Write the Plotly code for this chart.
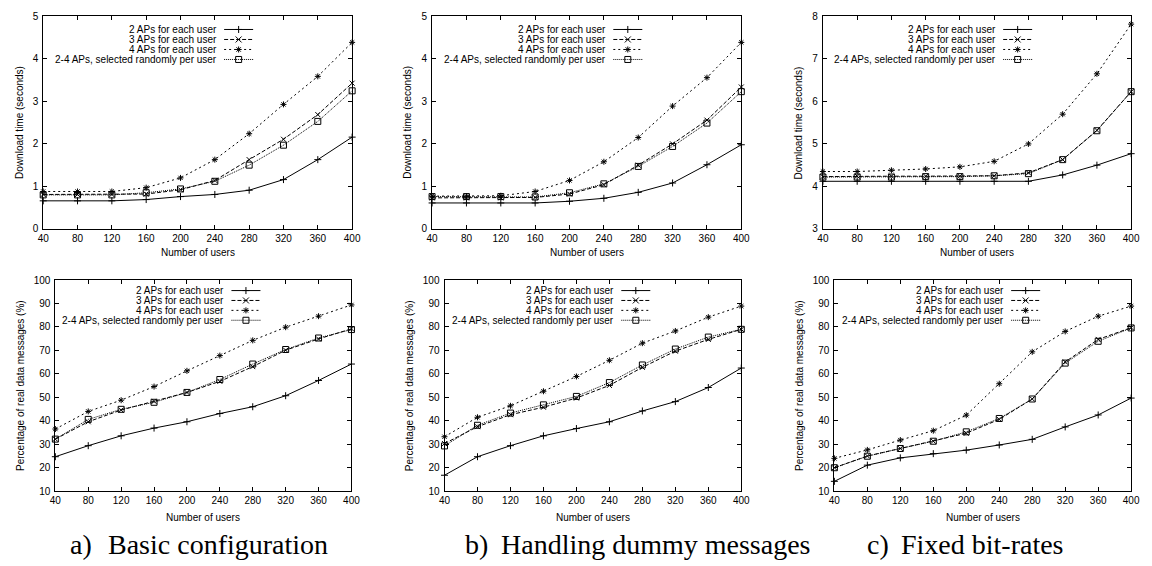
import re
import plotly.graph_objects as go

# ---------------- data ----------------
users = [40, 80, 120, 160, 200, 240, 280, 320, 360, 400]
series_names = ["2 APs for each user", "3 APs for each user",
                "4 APs for each user", "2-4 APs, selected randomly per user"]

a_dl_2 = [0.66, 0.66, 0.66, 0.69, 0.76, 0.81, 0.91, 1.16, 1.63, 2.16]
a_dl_3 = [0.81, 0.81, 0.81, 0.82, 0.92, 1.14, 1.63, 2.11, 2.69, 3.43]
a_dl_4 = [0.88, 0.88, 0.88, 0.97, 1.20, 1.63, 2.24, 2.93, 3.59, 4.39]
a_dl_r = [0.80, 0.80, 0.80, 0.85, 0.94, 1.12, 1.50, 1.97, 2.53, 3.25]

b_dl_2 = [0.61, 0.61, 0.61, 0.61, 0.65, 0.72, 0.86, 1.08, 1.51, 1.98]
b_dl_3 = [0.73, 0.73, 0.73, 0.74, 0.82, 1.04, 1.50, 2.00, 2.56, 3.34]
b_dl_4 = [0.77, 0.77, 0.78, 0.88, 1.14, 1.58, 2.15, 2.89, 3.56, 4.39]
b_dl_r = [0.76, 0.76, 0.76, 0.75, 0.85, 1.06, 1.47, 1.94, 2.49, 3.23]

c_dl_2 = [4.12, 4.12, 4.12, 4.12, 4.12, 4.12, 4.12, 4.27, 4.50, 4.77]
c_dl_3 = [4.23, 4.24, 4.24, 4.24, 4.24, 4.25, 4.32, 4.63, 5.32, 6.23]
c_dl_4 = [4.35, 4.35, 4.38, 4.41, 4.46, 4.59, 5.00, 5.70, 6.65, 7.82]
c_dl_r = [4.22, 4.22, 4.22, 4.23, 4.23, 4.25, 4.30, 4.63, 5.31, 6.23]

a_pct_2 = [24.7, 29.4, 33.6, 36.9, 39.6, 43.1, 46.0, 50.7, 57.2, 64.2]
a_pct_3 = [32.2, 39.6, 44.6, 48.3, 52.1, 56.8, 63.1, 70.1, 74.9, 79.2]
a_pct_4 = [36.5, 44.0, 48.8, 54.6, 61.3, 67.8, 74.3, 79.9, 84.6, 89.4]
a_pct_r = [32.2, 40.6, 44.9, 47.9, 52.1, 57.6, 64.2, 70.4, 75.3, 78.9]

b_pct_2 = [16.8, 24.7, 29.4, 33.6, 36.7, 39.6, 44.2, 48.2, 54.2, 62.5]
b_pct_3 = [30.3, 37.5, 42.6, 45.8, 49.7, 55.1, 62.8, 69.7, 74.7, 79.0]
b_pct_4 = [33.2, 41.5, 46.4, 52.6, 58.9, 65.8, 73.1, 78.3, 84.2, 88.9]
b_pct_r = [29.3, 38.1, 43.3, 46.8, 50.4, 56.3, 63.8, 70.6, 75.7, 79.0]

c_pct_2 = [14.2, 21.1, 24.2, 26.0, 27.5, 29.7, 32.1, 37.4, 42.5, 49.7]
c_pct_3 = [20.0, 25.0, 28.2, 31.3, 34.7, 40.6, 49.3, 65.1, 74.7, 79.7]
c_pct_4 = [24.0, 27.6, 31.8, 35.8, 42.4, 55.8, 69.4, 78.1, 84.6, 88.9]
c_pct_r = [20.0, 24.9, 28.2, 31.3, 35.3, 41.0, 49.3, 64.6, 73.9, 79.6]

dl_ticks_ab = [0, 1, 2, 3, 4, 5]
dl_ticks_c = [3, 4, 5, 6, 7, 8]
pct_ticks = [10, 20, 30, 40, 50, 60, 70, 80, 90, 100]

captions = [("a)", "Basic configuration"),
            ("b)", "Handling dummy messages"),
            ("c)", "Fixed bit-rates")]

y_title_dl = "Download time (seconds)"
y_title_pct = "Percentage of real data messages (%)"
x_title = "Number of users"

panels = [
    ([a_dl_2, a_dl_3, a_dl_4, a_dl_r], dl_ticks_ab, y_title_dl),
    ([b_dl_2, b_dl_3, b_dl_4, b_dl_r], dl_ticks_ab, y_title_dl),
    ([c_dl_2, c_dl_3, c_dl_4, c_dl_r], dl_ticks_c, y_title_dl),
    ([a_pct_2, a_pct_3, a_pct_4, a_pct_r], pct_ticks, y_title_pct),
    ([b_pct_2, b_pct_3, b_pct_4, b_pct_r], pct_ticks, y_title_pct),
    ([c_pct_2, c_pct_3, c_pct_4, c_pct_r], pct_ticks, y_title_pct),
]

# ---------------- layout / style ----------------
W, H = 1152, 566
FONT = "Liberation Sans, Arial, Helvetica, sans-serif"
# plot boxes in pixel coordinates (left, right, top, bottom)
boxes = [(37.7, 350.7, 10.7, 227.7), (431.7, 745.0, 10.7, 227.7),
         (827.7, 1140.0, 10.7, 227.7), (50.0, 350.0, 280.0, 495.7),
         (444.3, 745.0, 280.0, 495.7), (839.3, 1140.0, 280.0, 495.7)]

styles = [
    dict(dash="solid", symbol="cross-thin-open", size=5),
    dict(dash="4px,2px", symbol="x-thin-open", size=5),
    dict(dash="2px,3px", symbol="asterisk-open", size=5),
    dict(dash="1px,1px", symbol="square-open", size=6),
]
glyph_paths = [
    "M-3.5,0H3.5M0,-3.5V3.5",
    "M-3,-3L3,3M-3,3L3,-3",
    "M-3,0H3M0,-3V3M-2.2,-2.2L2.2,2.2M-2.2,2.2L2.2,-2.2",
    "M-3,-3H3V3H-3Z",
]


def shift_path(p, dx, dy):
    tokens = re.findall(r"[MLHVZ]|-?\d+\.?\d*", p)
    out, cmd, j = [], None, 0
    while j < len(tokens):
        t = tokens[j]
        if t in "MLHVZ":
            cmd = t
            out.append(t)
            j += 1
            continue
        if cmd in ("M", "L"):
            out.append(f"{float(tokens[j]) + dx},{float(tokens[j + 1]) + dy}")
            j += 2
        elif cmd == "H":
            out.append(f"{float(t) + dx}")
            j += 1
        elif cmd == "V":
            out.append(f"{float(t) + dy}")
            j += 1
        else:
            j += 1
    return "".join(out)


fig = go.Figure()
layout = dict(width=W, height=H, margin=dict(l=0, r=0, t=0, b=0),
              paper_bgcolor="white", plot_bgcolor="white", showlegend=False,
              hovermode=False,
              font=dict(family=FONT, size=10, color="black"))
annotations = []
shapes = []

for i, (series, yticks, ytitle) in enumerate(panels):
    n = i + 1
    xs = "" if n == 1 else str(n)
    x0, x1, y0, y1 = boxes[i]
    axis_common = dict(showline=True, linecolor="black", linewidth=1,
                       mirror="ticks", ticks="inside", ticklen=4,
                       tickcolor="black", tickwidth=1, showgrid=False,
                       zeroline=False, tickfont=dict(family=FONT, size=10))
    layout[f"xaxis{xs}"] = dict(axis_common, domain=[x0 / W, x1 / W],
                                anchor=f"y{xs}", range=[40, 400],
                                tickvals=users)
    layout[f"yaxis{xs}"] = dict(axis_common, domain=[1 - y1 / H, 1 - y0 / H],
                                anchor=f"x{xs}",
                                range=[yticks[0], yticks[-1]],
                                tickvals=yticks, ticklabelstandoff=2)
    for k, vals in enumerate(series):
        st = styles[k]
        fig.add_trace(go.Scatter(
            x=users, y=vals, xaxis=f"x{xs}", yaxis=f"y{xs}",
            mode="lines+markers", name=series_names[k],
            line=dict(color="black", width=1, dash=st["dash"]),
            marker=dict(symbol=st["symbol"], size=st["size"], color="black",
                        line=dict(color="black", width=1)),
            cliponaxis=False))

    xd, yd = f"x{xs} domain", f"y{xs} domain"
    top = i < 3
    txt_right = -133 if top else -125
    s0, s1 = (-128, -99) if top else (-120, -91)
    row0, rowstep = (13.0, 10.0) if top else (10.5, 9.9)
    for k in range(4):
        yy = -(row0 + rowstep * k)
        annotations.append(dict(
            text=series_names[k], xref=xd, yref=yd, x=1, y=1,
            xanchor="right", yanchor="middle", xshift=txt_right, yshift=yy,
            showarrow=False, font=dict(family=FONT, size=10, color="black")))
        shapes.append(dict(
            type="line", xref=xd, yref=yd, xsizemode="pixel",
            ysizemode="pixel", xanchor=1, yanchor=1, x0=s0, x1=s1,
            y0=yy, y1=yy, line=dict(color="black", width=1,
                                    dash=styles[k]["dash"])))
        cx = (s0 + s1) / 2.0
        shapes.append(dict(
            type="path", xref=xd, yref=yd, xsizemode="pixel",
            ysizemode="pixel", xanchor=1, yanchor=1,
            path=shift_path(glyph_paths[k], cx, yy),
            line=dict(color="black", width=1), fillcolor="rgba(0,0,0,0)"))

    # axis titles
    annotations.append(dict(
        text=x_title, xref=xd, yref=yd, x=0.5, y=0, xanchor="center",
        yanchor="middle", yshift=-24 if top else -26, showarrow=False,
        font=dict(family=FONT, size=10, color="black")))
    annotations.append(dict(
        text=ytitle, xref=xd, yref=yd, x=0, y=0.5, xanchor="center",
        yanchor="middle", xshift=-24 if top else -35, textangle=-90,
        showarrow=False, font=dict(family=FONT, size=10, color="black")))

# captions
SERIF = "Liberation Serif, Times New Roman, serif"
cap_label_x = [63, 463, 870]
cap_text_x = [101, 500, 905]
cap_y = 550
for c, (lab, txt) in enumerate(captions):
    annotations.append(dict(
        text=lab, xref="paper", yref="paper", x=cap_label_x[c] / W,
        y=1 - cap_y / H, xanchor="left", yanchor="middle",
        showarrow=False, font=dict(family=SERIF, size=28, color="black")))
    annotations.append(dict(
        text=txt, xref="paper", yref="paper", x=cap_text_x[c] / W,
        y=1 - cap_y / H, xanchor="left", yanchor="middle",
        showarrow=False, font=dict(family=SERIF, size=28, color="black")))

layout["annotations"] = annotations
layout["shapes"] = shapes
fig.update_layout(**layout)
fig.write_html("out.html",
               config={"displayModeBar": False, "staticPlot": True},
               post_script="document.body.style.margin='0';"
                           "document.body.style.overflow='hidden';")
